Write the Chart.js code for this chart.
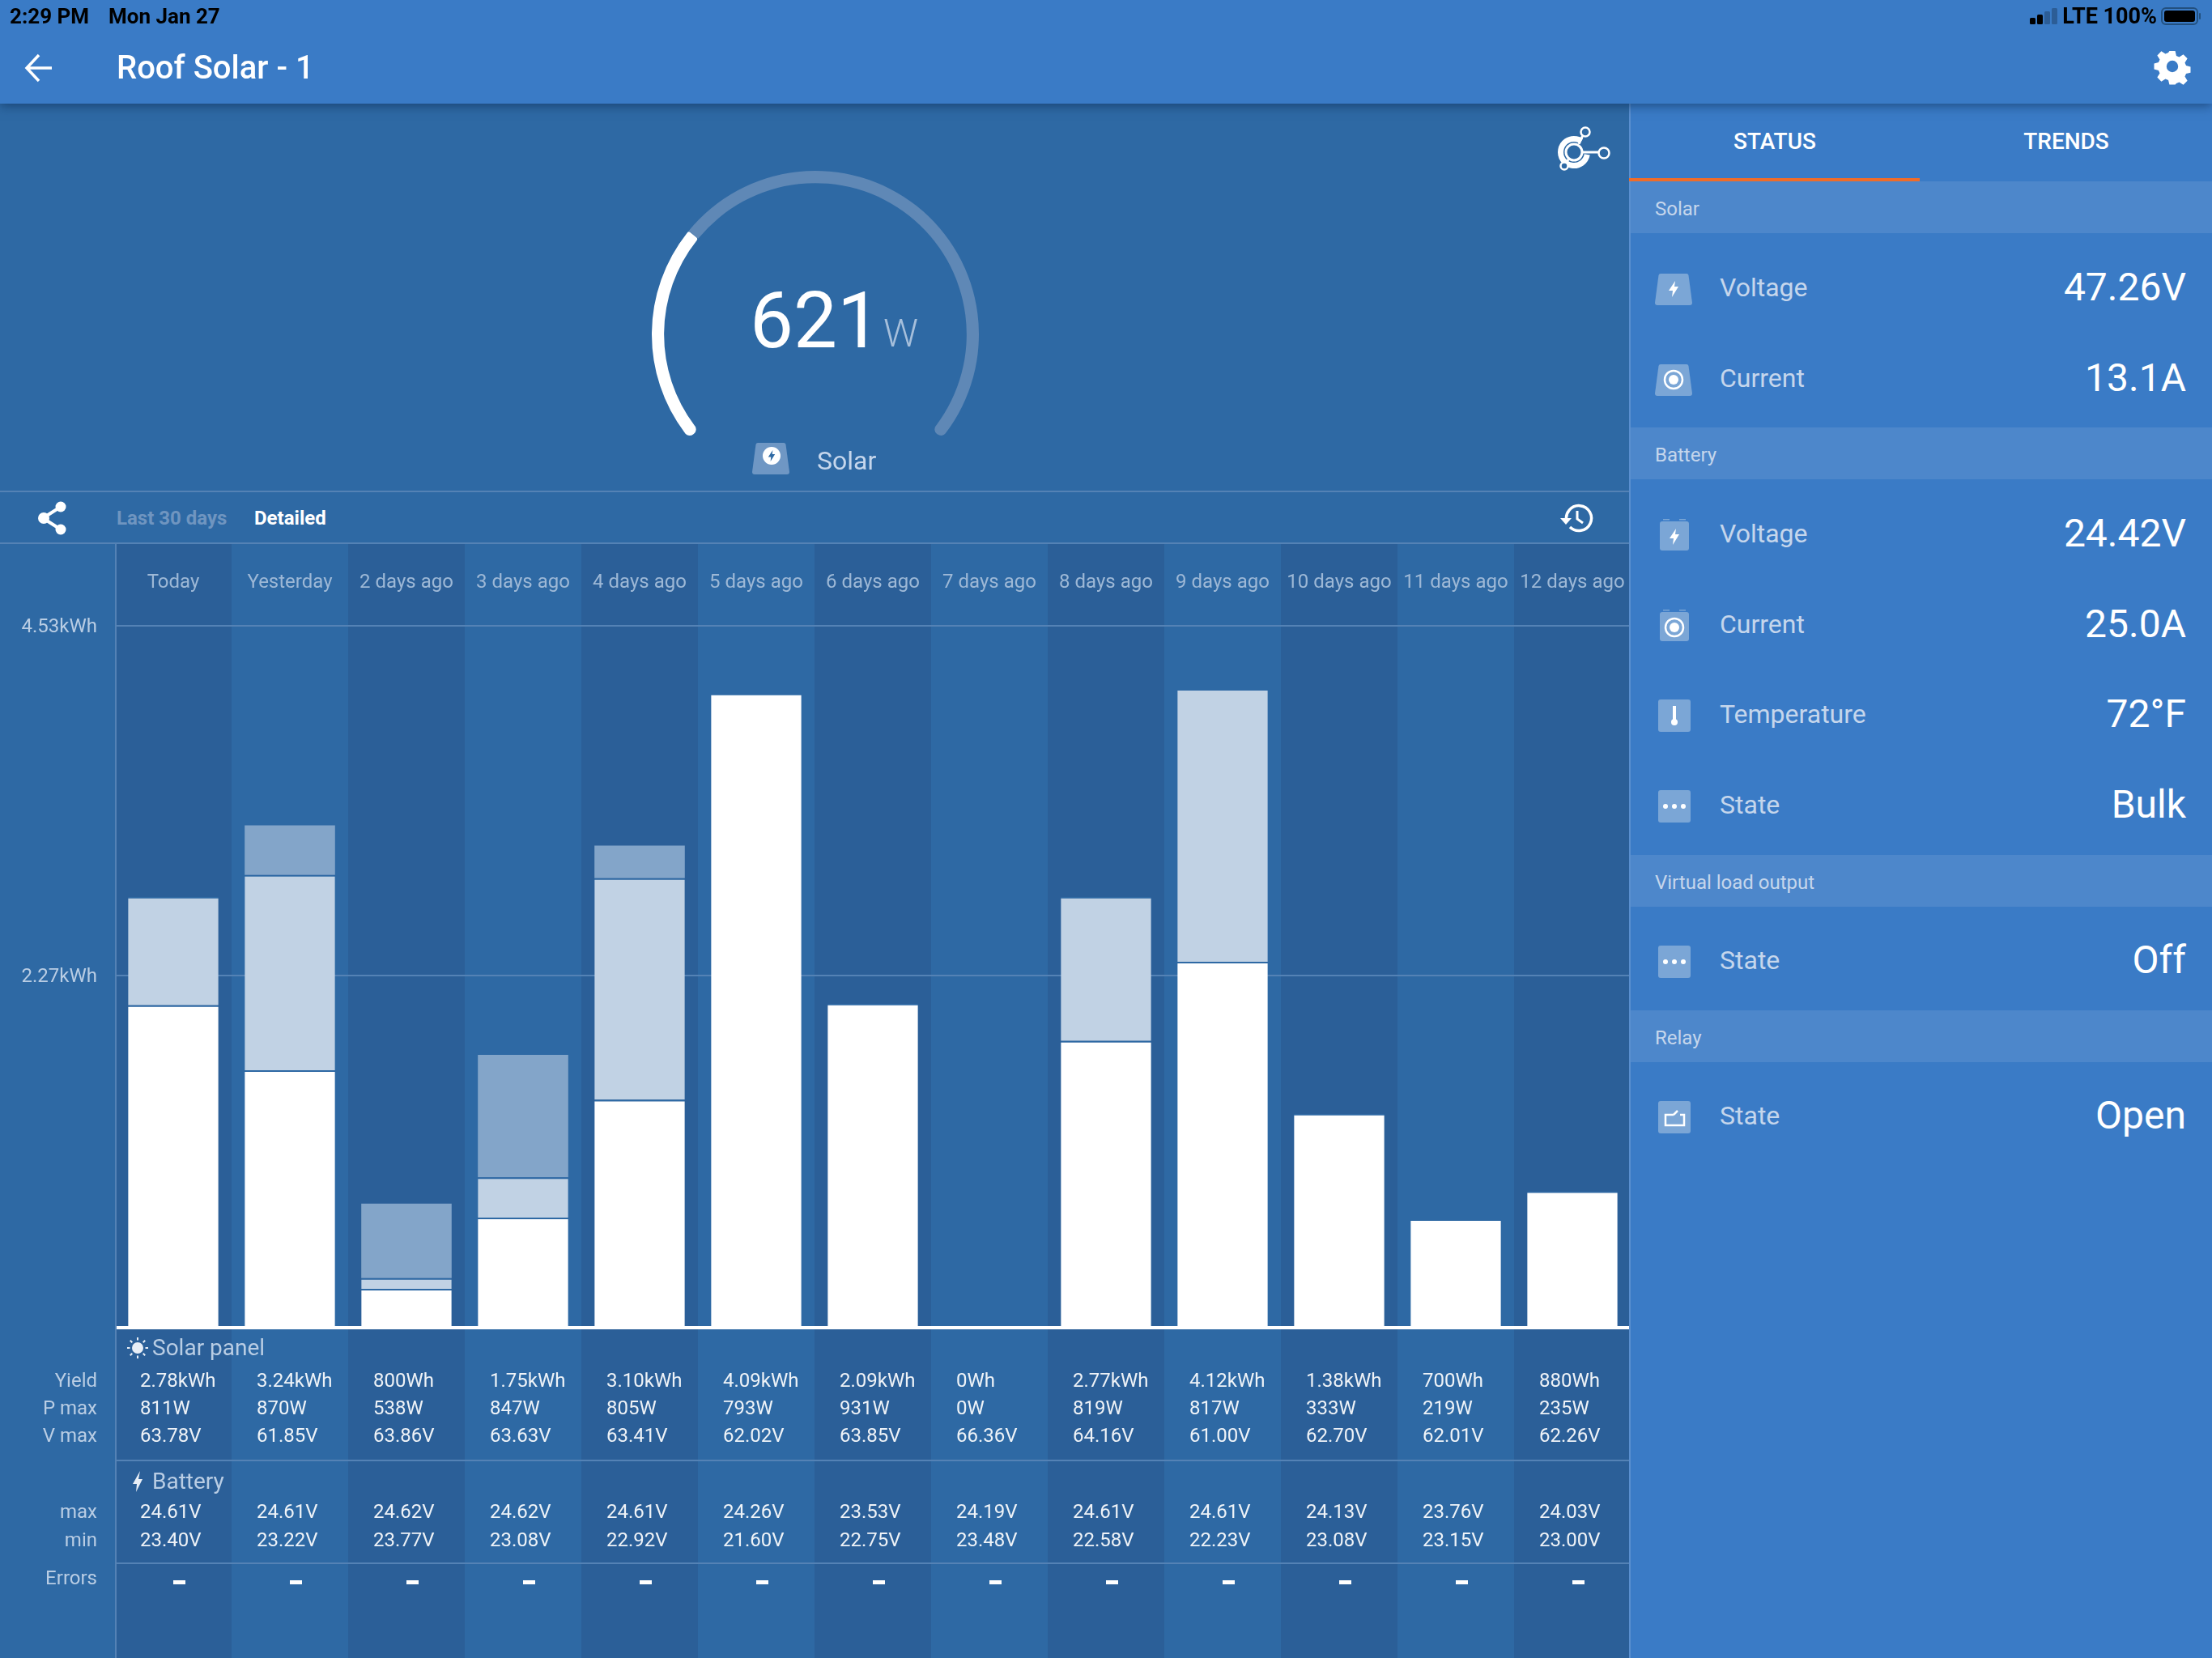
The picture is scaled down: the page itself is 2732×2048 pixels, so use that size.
<!DOCTYPE html>
<html>
<head>
<meta charset="utf-8">
<title>Roof Solar - 1</title>
<script src="https://cdn.jsdelivr.net/npm/chart.js@4"></script>
<style>
  html, body { margin: 0; padding: 0; background: #2e69a4; }
  body { width: 2732px; height: 2048px; position: relative; overflow: hidden; font-family: Roboto, sans-serif; }
  .abs, canvas, svg { position: absolute; }
  .txt { position: absolute; white-space: nowrap; line-height: 1; }
  #topbar { left: 0; top: 0; width: 2732px; height: 128px; background: #3a7bc6; box-shadow: 0 3px 12px rgba(10,40,80,.55); z-index: 5; }
  #side { left: 2012px; top: 128px; width: 720px; height: 1920px; background: #3a7bc6; border-left: 2px solid #5a8fcf; box-sizing: border-box; }
  .rule { position: absolute; left: 0; width: 2012px; height: 2px; background: #5482b5; }
  .section { position: absolute; left: 2014px; width: 718px; background: #4d87cb; }
</style>
</head>
<body>
<canvas id="bars" width="2014" height="1377" style="left:0;top:671px"></canvas>
<canvas id="gauge" width="404" height="404" style="left:805px;top:174px"></canvas>
<div class="rule" style="top:606px"></div>
<div class="rule" style="top:670px"></div>
<div id="side" class="abs"></div>
<div id="topbar" class="abs"></div>
<div id="ui"></div>

<script>
// chart data
const days = ["Today", "Yesterday", "2 days ago", "3 days ago", "4 days ago", "5 days ago", "6 days ago",
  "7 days ago", "8 days ago", "9 days ago", "10 days ago", "11 days ago", "12 days ago"]
const bulk = [2.08, 1.66, 0.25, 0.71, 1.47, 4.09, 2.09, 0, 1.85, 2.36, 1.38, 0.70, 0.88]
const absorption = [0.70, 1.26, 0.07, 0.26, 1.43, 0, 0, 0, 0.93, 1.76, 0, 0, 0]
const float = [0, 0.32, 0.48, 0.79, 0.21, 0, 0, 0, 0, 0, 0, 0, 0]
const yTicks = [0, 2.27, 4.53]

// table under the bars
const yieldText = ["2.78kWh", "3.24kWh", "800Wh", "1.75kWh", "3.10kWh", "4.09kWh", "2.09kWh", "0Wh", "2.77kWh", "4.12kWh", "1.38kWh", "700Wh", "880Wh"]
const pMax = ["811W", "870W", "538W", "847W", "805W", "793W", "931W", "0W", "819W", "817W", "333W", "219W", "235W"]
const vMax = ["63.78V", "61.85V", "63.86V", "63.63V", "63.41V", "62.02V", "63.85V", "66.36V", "64.16V", "61.00V", "62.70V", "62.01V", "62.26V"]
const batMax = ["24.61V", "24.61V", "24.62V", "24.62V", "24.61V", "24.26V", "23.53V", "24.19V", "24.61V", "24.61V", "24.13V", "23.76V", "24.03V"]
const batMin = ["23.40V", "23.22V", "23.77V", "23.08V", "22.92V", "21.60V", "22.75V", "23.48V", "22.58V", "22.23V", "23.08V", "23.15V", "23.00V"]

// gauge: current watts and what is left of the dial
const gaugeValues = [621, 1424]

const DARK_BAND = "#2b5f98"
const LIGHT_BAND = "#2e69a4"
const LINE = "#5482b5"
const LABEL = "#b9cde4"

// column bands behind the chart, drawn first
const bandsPlugin = {
  id: "bands",
  beforeDraw(chart) {
    const { ctx, scales: { x } } = chart
    const w = x.width / days.length
    days.forEach((d, i) => {
      ctx.fillStyle = i % 2 === 0 ? DARK_BAND : LIGHT_BAND
      ctx.fillRect(x.left + i * w, 0, w, chart.height)
    })
  },
  // Solar panel / Battery table, lined up with the x scale
  afterDraw(chart) {
    const { ctx, scales: { x } } = chart
    const top = -671 // rows below are in page coordinates
    ctx.save()
    ctx.textBaseline = "middle"

    ctx.fillStyle = LINE
    ctx.fillRect(x.left, 0, 2, chart.height)
    ctx.fillRect(x.left, 1803 + top, x.width, 2)
    ctx.fillRect(x.left, 1930 + top, x.width, 2)

    ctx.font = "24px Roboto"
    ctx.textAlign = "right"
    ctx.fillStyle = LABEL
    const rowLabels = [["Yield", 1707], ["P max", 1741], ["V max", 1775], ["max", 1869], ["min", 1904], ["Errors", 1951]]
    rowLabels.forEach(([t, y]) => ctx.fillText(t, 120, y + top))

    ctx.textAlign = "left"
    ctx.font = "28px Roboto"
    ctx.fillText("Solar panel", 188, 1667 + top)
    ctx.fillText("Battery", 188, 1832 + top)

    const w = x.width / days.length
    ctx.font = "24px Roboto"
    days.forEach((d, i) => {
      const cx = x.getPixelForTick(i)
      const tx = cx - w / 2 + 31
      ctx.fillStyle = "#ffffff"
      ctx.globalAlpha = 0.92
      ctx.fillText(yieldText[i], tx, 1707 + top)
      ctx.fillText(pMax[i], tx, 1741 + top)
      ctx.fillText(vMax[i], tx, 1775 + top)
      ctx.fillText(batMax[i], tx, 1869 + top)
      ctx.fillText(batMin[i], tx, 1904 + top)
      ctx.globalAlpha = 1
      ctx.fillRect(cx, 1952 + top, 15, 5)
    })

    // small sun and bolt in front of the table headings
    ctx.strokeStyle = "#e8eef6"
    ctx.fillStyle = "#e8eef6"
    ctx.lineWidth = 2
    ctx.beginPath(); ctx.arc(170, 1665 + top, 7, 0, Math.PI * 2); ctx.fill()
    for (let a = 0; a < 8; a++) {
      const r = (a * Math.PI) / 4
      ctx.beginPath()
      ctx.moveTo(170 + Math.cos(r) * 9.5, 1665 + top + Math.sin(r) * 9.5)
      ctx.lineTo(170 + Math.cos(r) * 13, 1665 + top + Math.sin(r) * 13)
      ctx.stroke()
    }
    ctx.beginPath()
    const bx = 170, by = 1830 + top
    ctx.moveTo(bx + 3, by - 13); ctx.lineTo(bx - 6, by + 3); ctx.lineTo(bx - 1, by + 3)
    ctx.lineTo(bx - 2, by + 13); ctx.lineTo(bx + 6, by - 3); ctx.lineTo(bx + 1, by - 3); ctx.closePath(); ctx.fill()
    ctx.restore()
  },
}

const barBorder = { top: 2, right: 0, bottom: 0, left: 0 }

new Chart(document.getElementById("bars"), {
  type: "bar",
  plugins: [bandsPlugin],
  data: {
    labels: days,
    datasets: [
      { label: "Bulk", data: bulk, backgroundColor: "#ffffff", borderColor: LIGHT_BAND, borderWidth: barBorder, borderSkipped: false },
      { label: "Absorption", data: absorption, backgroundColor: "#c1d2e4", borderColor: LIGHT_BAND, borderWidth: barBorder, borderSkipped: false },
      { label: "Float", data: float, backgroundColor: "#83a5c9", borderWidth: 0 },
    ],
  },
  options: {
    responsive: false,
    animation: false,
    barPercentage: 0.775,
    categoryPercentage: 1,
    layout: { autoPadding: false, padding: { bottom: 408 } },
    plugins: { legend: { display: false }, tooltip: { enabled: false } },
    scales: {
      x: {
        position: "top",
        stacked: true,
        grid: { display: false, drawTicks: false },
        border: { display: false },
        ticks: { color: "#9db8d6", font: { family: "Roboto", size: 24 }, padding: 38, autoSkip: false, maxRotation: 0, minRotation: 0 },
        afterFit: (scale) => {
          // tick padding must not eat into the category width
          scale.height = 101.5
          scale.paddingLeft = 0
          scale.paddingRight = 0
        },
      },
      y: {
        stacked: true,
        min: 0,
        max: 4.53,
        grid: {
          color: (c) => (c.tick.value === 0 ? "#ffffff" : LINE),
          lineWidth: (c) => (c.tick.value === 0 ? 4 : 2),
          drawTicks: false,
        },
        border: { display: false },
        afterBuildTicks: (scale) => { scale.ticks = yTicks.map((v) => ({ value: v })) },
        ticks: {
          color: LABEL,
          font: { family: "Roboto", size: 24 },
          padding: 22,
          labelOffset: 2,
          callback: (v) => (v === 0 ? "" : v.toFixed(2) + "kWh"),
        },
        afterFit: (scale) => { scale.width = 142 },
      },
    },
  },
})

new Chart(document.getElementById("gauge"), {
  type: "doughnut",
  data: {
    datasets: [{
      data: gaugeValues,
      backgroundColor: ["#ffffff", "#5f88b6"],
      borderWidth: 0,
      borderRadius: [
        { outerStart: 7, innerStart: 7, outerEnd: 3, innerEnd: 3 },
        { outerStart: 0, innerStart: 0, outerEnd: 7, innerEnd: 7 },
      ],
    }],
  },
  options: {
    responsive: false,
    animation: false,
    rotation: -129.3,
    circumference: 258.6,
    cutout: "92.5%",
    plugins: { legend: { display: false }, tooltip: { enabled: false } },
  },
})

// everything around the chart: app bar, status panel
const ui = document.getElementById("ui")

function txt(s, o) {
  const d = document.createElement("div")
  d.className = "txt"
  d.textContent = s
  const size = o.size || 24
  d.style.fontSize = size + "px"
  d.style.fontWeight = o.weight || 400
  d.style.color = o.color || "#fff"
  d.style.fontFamily = o.family || "Roboto, sans-serif"
  d.style.top = o.y - size / 2 + "px"
  if (o.right != null) d.style.right = 2732 - o.right + "px"
  else if (o.center != null) { d.style.left = o.center + "px"; d.style.transform = "translateX(-50%)" }
  else d.style.left = o.x + "px"
  d.style.zIndex = 6
  ui.appendChild(d)
}

function svg(x, y, w, h, inner) {
  const s = document.createElementNS("http://www.w3.org/2000/svg", "svg")
  s.setAttribute("width", w); s.setAttribute("height", h); s.setAttribute("viewBox", `0 0 ${w} ${h}`)
  s.style.left = x + "px"; s.style.top = y + "px"; s.style.zIndex = 6
  s.innerHTML = inner
  ui.appendChild(s)
}

const ICON = "#7ba6d6"
const bolt = (cx, cy, k, c) => `<path fill="${c || "#fff"}" d="M${cx + 2 * k} ${cy - 10 * k}L${cx - 6 * k} ${cy + 2 * k}H${cx - 1 * k}L${cx - 2 * k} ${cy + 10 * k}L${cx + 6 * k} ${cy - 3 * k}H${cx + 1 * k}Z"/>`
const target = (cx, cy) => `<circle cx="${cx}" cy="${cy}" r="11" fill="none" stroke="#fff" stroke-width="2.5"/><circle cx="${cx}" cy="${cy}" r="6" fill="#fff"/>`
const trapezoid = `<path fill="${ICON}" d="M7 1H39Q41 1 41.5 3L46 37Q46 40 43 40H3Q0 40 0 37L4.5 3Q5 1 7 1Z"/>`
const battery = `<rect x="4" y="1" width="8" height="1.5" fill="${ICON}"/><rect x="24" y="1" width="8" height="1.5" fill="${ICON}"/><rect y="4" width="36" height="36" rx="3" fill="${ICON}"/>`
const square = `<rect width="40" height="40" rx="3" fill="${ICON}"/>`
const dots = square + `<circle cx="9" cy="20" r="3" fill="#fff"/><circle cx="20" cy="20" r="3" fill="#fff"/><circle cx="31" cy="20" r="3" fill="#fff"/>`

// status bar
txt("2:29 PM", { x: 12, y: 20, size: 26, weight: 700, color: "#000" })
txt("Mon Jan 27", { x: 134, y: 20, size: 26, weight: 700, color: "#000" })
txt("LTE 100%", { right: 2664, y: 20, size: 27, weight: 700, color: "#000" })
svg(2506, 9, 36, 22, `<rect x="1" y="13" width="7" height="8" rx="1.5"/><rect x="10" y="9" width="7" height="12" rx="1.5"/><rect x="19" y="5" width="7" height="16" rx="1.5" fill="#2c5d96"/><rect x="28" y="1" width="7" height="20" rx="1.5" fill="#2c5d96"/>`)
svg(2669, 8, 50, 24, `<rect x="1" y="2" width="44" height="20" rx="5" fill="none" stroke="#22507f" stroke-width="2"/><rect x="4" y="5" width="38" height="14" rx="3"/><rect x="47" y="8" width="2" height="8" rx="1" fill="#22507f"/>`)

// app bar
svg(30, 66, 36, 36, `<path d="M18 2L3 18L18 34M3 18H34" fill="none" stroke="#fff" stroke-width="3.5"/>`)
txt("Roof Solar - 1", { x: 144, y: 84, size: 40, weight: 500 })
svg(2660, 59, 46, 46, `<path fill="#fff" fill-rule="evenodd" d="M19 2h8l1.5 6.5 4 1.7 5.6-3.5 5.6 5.6-3.5 5.6 1.7 4 6.1 1.6v8l-6.1 1.5-1.7 4 3.5 5.6-5.6 5.6-5.6-3.5-4 1.7L27 48h-8l-1.5-6.1-4-1.7-5.6 3.5-5.6-5.6 3.5-5.6-1.7-4L-2 27v-8l6.1-1.5 1.7-4L2.3 7.9l5.6-5.6 5.6 3.5 4-1.7zM23 15a8 8 0 100 16 8 8 0 000-16z" transform="translate(2.3 2.3) scale(.9)"/>`)

// gauge area
txt("621", { x: 926, y: 396, size: 96, weight: 400 })
txt("W", { x: 1091, y: 412, size: 48, weight: 300, color: "#a6bfdb" })
txt("Solar", { x: 1009, y: 569, size: 32, weight: 400, color: "#c5d6ec" })
svg(929, 546, 46, 40, `<path fill="#6f97c4" d="M7 1H39Q41 1 41.5 3L46 37Q46 40 43 40H3Q0 40 0 37L4.5 3Q5 1 7 1Z"/><circle cx="24" cy="17" r="11" fill="#fff"/>` + bolt(24, 17, 0.7, "#2e69a4"))
svg(1918, 152, 74, 60, `<g fill="none" stroke="#fff"><circle cx="26" cy="36" r="16.5" stroke-width="7" stroke-dasharray="84 20" transform="rotate(10 26 36)"/><circle cx="26" cy="36" r="10" stroke-width="3"/><path d="M32 26L37 15M36 36H56M19 45L16 50" stroke-width="3"/><circle cx="40" cy="11" r="5.5" stroke-width="2.5"/><circle cx="63" cy="37" r="6.5" stroke-width="2.5"/><circle cx="14" cy="53" r="4.5" stroke-width="2.5" fill="#2e69a4"/></g>`)
svg(1924, 620, 44, 40, `<g fill="none" stroke="#fff" stroke-width="3.5"><path d="M11 24A15.5 15.5 0 1 1 15 31" /><path d="M24 11V21L31 26" stroke-width="3"/></g><path fill="#fff" d="M3 20H17L10 28Z"/>`)
svg(46, 618, 38, 44, `<path d="M7 22L29 8M7 22L29 36" stroke="#fff" stroke-width="4"/><circle cx="8" cy="22" r="7" fill="#fff"/><circle cx="29" cy="8" r="6.5" fill="#fff"/><circle cx="29" cy="36" r="6.5" fill="#fff"/>`)
txt("Last 30 days", { x: 144, y: 640, size: 24, weight: 700, color: "#6f95c0" })
txt("Detailed", { x: 314, y: 640, size: 24, weight: 700 })

// right panel
txt("STATUS", { center: 2192, y: 175, size: 28, weight: 500 })
txt("TRENDS", { center: 2552, y: 175, size: 28, weight: 500 })
const tabLine = document.createElement("div")
tabLine.className = "abs"
tabLine.style.cssText = "left:2012px;top:220px;width:359px;height:4px;background:#ef6c2a"
ui.appendChild(tabLine)

const sections = [["Solar", 224, 288], ["Battery", 528, 592], ["Virtual load output", 1056, 1120], ["Relay", 1248, 1312]]
sections.forEach(([t, a, b]) => {
  const d = document.createElement("div")
  d.className = "section"
  d.style.top = a + "px"
  d.style.height = b - a + "px"
  ui.appendChild(d)
  txt(t, { x: 2044, y: (a + b) / 2 + 2, size: 24, color: "#c5d6ec" })
})

const rowNames = ["Voltage", "Current", "Voltage", "Current", "Temperature", "State", "State", "State"]
const rowValues = ["47.26V", "13.1A", "24.42V", "25.0A", "72°F", "Bulk", "Off", "Open"]
const rowY = [355, 467, 659, 771, 882, 994, 1186, 1378]
rowNames.forEach((n, i) => {
  txt(n, { x: 2124, y: rowY[i], size: 32, weight: 400, color: "#c5d6ec" })
  txt(rowValues[i], { right: 2700, y: rowY[i], size: 48, weight: 400 })
})

// row icons
svg(2044, 337, 46, 40, trapezoid + bolt(23, 20, 1))
svg(2044, 449, 46, 40, trapezoid + target(23, 20))
svg(2050, 640, 36, 40, battery + bolt(18, 23, 1))
svg(2050, 752, 36, 40, battery + target(18, 23))
svg(2048, 864, 40, 40, square + `<path d="M20 8V26" stroke="#fff" stroke-width="4"/><circle cx="20" cy="28" r="4" fill="#fff"/>`)
svg(2048, 976, 40, 40, dots)
svg(2048, 1168, 40, 40, dots)
svg(2048, 1360, 40, 40, square + `<path d="M19 17H9V30H32V17H27M19 17L24 12" fill="none" stroke="#fff" stroke-width="2.5"/>`)
</script>
</body>
</html>
